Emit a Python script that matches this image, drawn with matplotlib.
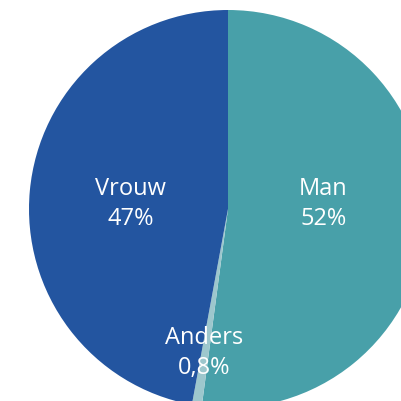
import matplotlib.pyplot as plt

# Verdeling naar geslacht
categories = ['Man', 'Anders', 'Vrouw']
values = [52, 0.8, 47]
value_labels = ['52%', '0,8%', '47%']
colors = ['#48a0a9', '#9dc7cd', '#2355a0']

fig = plt.figure(figsize=(4.01, 4.02), dpi=100)
ax = fig.add_axes([0, 0, 1, 1])

# Cirkel: begint bovenaan, met de klok mee
ax.pie(values, colors=colors, startangle=90, counterclock=False,
       radius=1, wedgeprops=dict(linewidth=0))

# Middelpunt op pixel (228, 210), straal 199 px -> een deel valt buiten beeld
r = 199.0
ax.set_xlim(-228 / r, (401 - 228) / r)
ax.set_ylim(-(402 - 210) / r, 210 / r)
ax.set_aspect('equal')
ax.axis('off')

# Labelposities (in straal-eenheden)
label_pos = {'Man': (0.48, 0.03), 'Vrouw': (-0.49, 0.03), 'Anders': (-0.12, -0.72)}
for cat, lab in zip(categories, value_labels):
    x, y = label_pos[cat]
    ax.text(x, y, cat + '\n' + lab, ha='center', va='center', color='white',
            fontsize=17, family=['Open Sans', 'DejaVu Sans'], linespacing=1.35)

plt.savefig('out.png', dpi=100)
